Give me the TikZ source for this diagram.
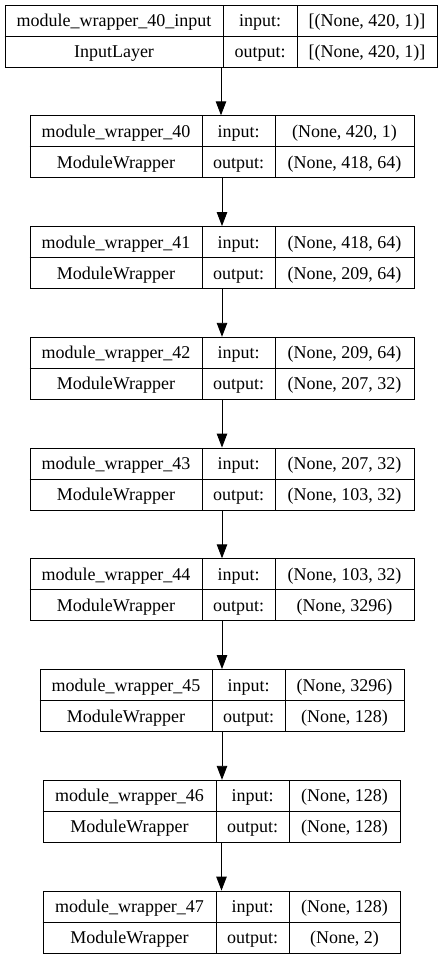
\documentclass[tikz,border=0pt]{standalone}
\usepackage{fontspec}
\setmainfont{Liberation Serif}
\newfontfamily\layerfont{Liberation Serif}
\usetikzlibrary{arrows.meta}
\begin{document}
\begin{tikzpicture}[x=1pt,y=-1pt,>={Triangle[length=14pt,width=10.5pt]},line width=0.9pt,
  cell/.style={anchor=base,inner sep=0pt,font=\layerfont\fontsize{18}{20}\selectfont},
  layerbox/.style={draw,inner sep=0pt,minimum height=62pt}]
\useasboundingbox (0,0) rectangle (444,959);
% one box per layer: left, dividers, right, top
\foreach \i/\l/\a/\b/\r/\y/\name/\kind/\shin/\shout in {
  0/5/223/297/437/5/{module\_wrapper\_40\_input}/InputLayer/{[(None, 420, 1)]}/{[(None, 420, 1)]},
  1/30/202/275/414/115.75/{module\_wrapper\_40}/ModuleWrapper/{(None, 420, 1)}/{(None, 418, 64)},
  2/30/202/275/414/226.5/{module\_wrapper\_41}/ModuleWrapper/{(None, 418, 64)}/{(None, 209, 64)},
  3/30/202/275/414/337.25/{module\_wrapper\_42}/ModuleWrapper/{(None, 209, 64)}/{(None, 207, 32)},
  4/30/202/275/414/448/{module\_wrapper\_43}/ModuleWrapper/{(None, 207, 32)}/{(None, 103, 32)},
  5/30/202/275/414/558.75/{module\_wrapper\_44}/ModuleWrapper/{(None, 103, 32)}/{(None, 3296)},
  6/40/212/285/404/669.5/{module\_wrapper\_45}/ModuleWrapper/{(None, 3296)}/{(None, 128)},
  7/43/216/289/400/780.25/{module\_wrapper\_46}/ModuleWrapper/{(None, 128)}/{(None, 128)},
  8/43/216/289/400/891/{module\_wrapper\_47}/ModuleWrapper/{(None, 128)}/{(None, 2)}}{
  \node[layerbox,minimum width={(\r-\l)*1pt}] (L\i) at ({(\l+\r)/2},{\y+31}) {};
  \draw (L\i.west) -- (L\i.east);
  \draw (\a,\y) -- ++(0,62);
  \draw (\b,\y) -- ++(0,62);
  \node[cell] (name\i) at ({(\l+\a)/2},{\y+21.5}) {\name};
  \node[cell] (kind\i) at ({(\l+\a)/2},{\y+52.5}) {\kind};
  \node[cell] (inl\i) at ({(\a+\b)/2},{\y+21.5}) {input:};
  \node[cell] (outl\i) at ({(\a+\b)/2},{\y+52.5}) {output:};
  \node[cell] (in\i) at ({(\b+\r)/2},{\y+21.5}) {\shin};
  \node[cell] (out\i) at ({(\b+\r)/2},{\y+52.5}) {\shout};
}
\foreach \i [count=\j from 1] in {0,...,7}
  \draw[->] (L\i.south) -- (L\i.south |- L\j.north);
\end{tikzpicture}
\end{document}
